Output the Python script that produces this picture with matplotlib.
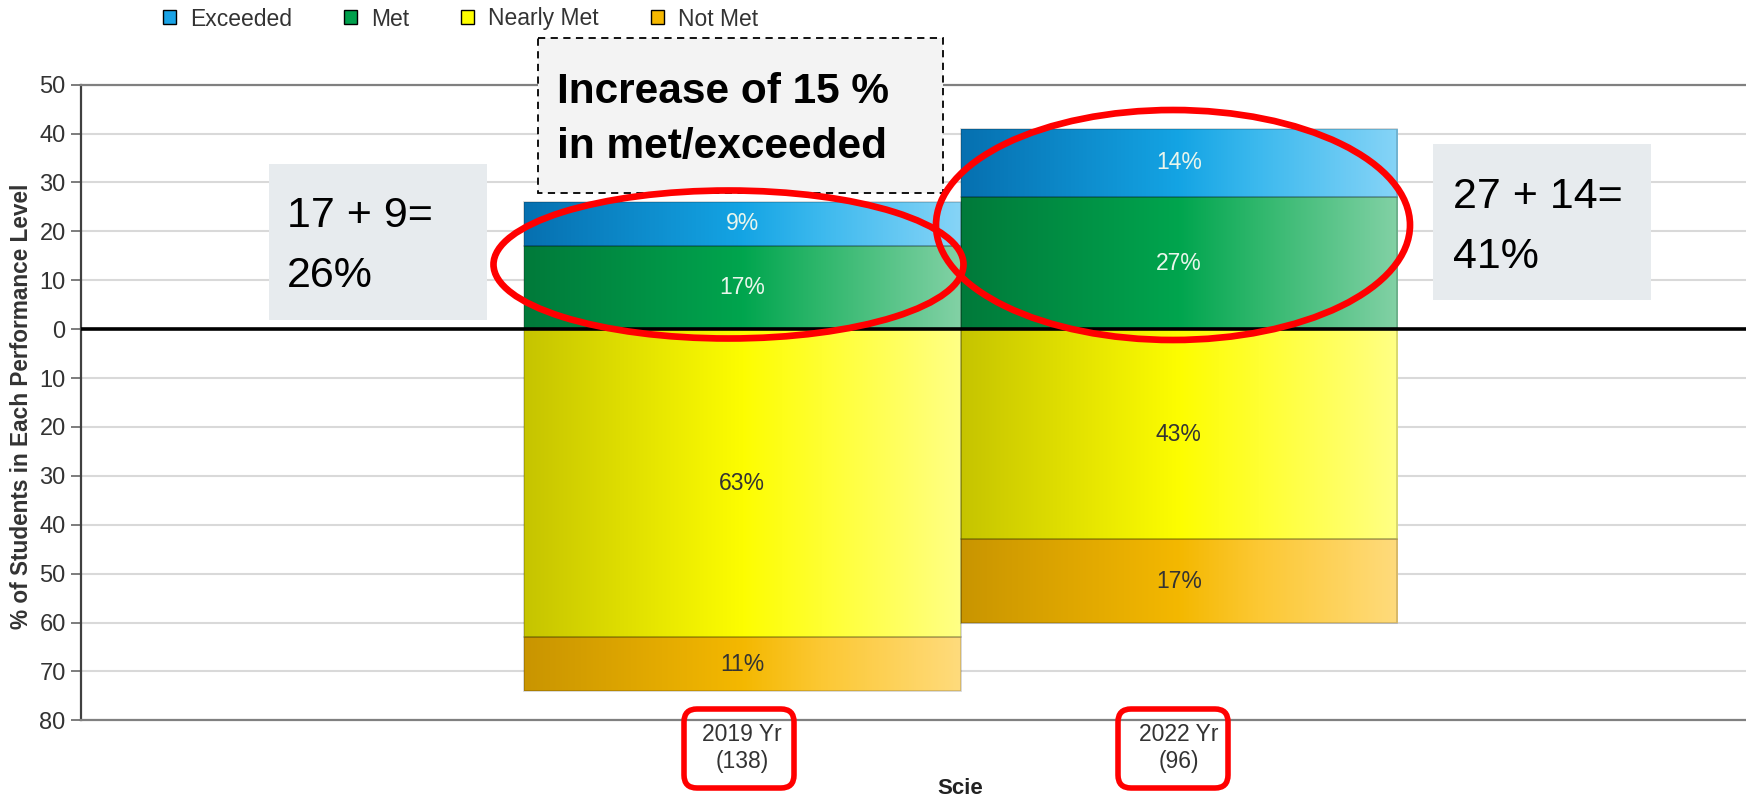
import numpy as np
import matplotlib
matplotlib.use('Agg')
import matplotlib.pyplot as plt
import matplotlib.transforms as mtransforms
from matplotlib.patches import Patch, Ellipse, FancyBboxPatch, Rectangle
from matplotlib.colors import LinearSegmentedColormap

# ---------------- data ----------------
years = ['2019 Yr', '2022 Yr']
counts = [138, 96]
exceeded = [9, 14]
met = [17, 27]
nearly_met = [63, 43]
not_met = [11, 17]
y_ticks = list(range(-80, 51, 10))
subject = 'Scie'
levels = ['Exceeded', 'Met', 'Nearly Met', 'Not Met']

# ---------------- figure ----------------
plt.rcParams['font.family'] = ['Liberation Sans', 'DejaVu Sans']
W, H, DPI = 1746, 799, 100
fig = plt.figure(figsize=(W / DPI, H / DPI), dpi=DPI)
fig.patch.set_facecolor('white')

def fx(px):
    return px / W

def fy(py):
    return 1 - py / H

ax_left, ax_top, ax_bottom = 81, 84.6, 720.4
ax = fig.add_axes([fx(ax_left), fy(ax_bottom), 1 - fx(ax_left), (ax_bottom - ax_top) / H])

x = np.arange(len(years))
ex = np.array(exceeded)
me = np.array(met)
nm = np.array(nearly_met)
no = np.array(not_met)

series = {
    'Exceeded':   dict(h=ex,  b=me,  grad=['#0670b0', '#14a4e4', '#3cb9ee', '#86d4f7'], txt='#eaf6ec', leg='#1aa3e6'),
    'Met':        dict(h=me,  b=np.zeros_like(me), grad=['#007a3a', '#00a54e', '#2fb76c', '#82d1a5'], txt='#eaf6ec', leg='#00a04c'),
    'Nearly Met': dict(h=-nm, b=np.zeros_like(nm), grad=['#c6c400', '#fdfd00', '#ffff30', '#ffff85'], txt='#333333', leg='#ffff00'),
    'Not Met':    dict(h=-no, b=-nm, grad=['#c99500', '#f4b800', '#fcc833', '#ffdb7c'], txt='#333333', leg='#f5b800'),
}
values = {'Exceeded': ex, 'Met': me, 'Nearly Met': nm, 'Not Met': no}

for name in ['Met', 'Exceeded', 'Nearly Met', 'Not Met']:
    s = series[name]
    bars = ax.bar(x, s['h'], bottom=s['b'], width=1.0, fill=False,
                  edgecolor=(0, 0, 0, 0.18), linewidth=1.2, zorder=4)
    cmap = LinearSegmentedColormap.from_list(name, list(zip([0, 0.5, 0.68, 1.0], s['grad'])))
    grad = cmap(np.linspace(0, 1, 256))[None, :, :]
    for p in bars.patches:
        x0, y0, w, h = p.get_x(), p.get_y(), p.get_width(), p.get_height()
        im = ax.imshow(grad, extent=(x0, x0 + w, min(y0, y0 + h), max(y0, y0 + h)),
                       aspect='auto', interpolation='bilinear', zorder=3)
        im.set_clip_path(p)
    ax.bar_label(bars, labels=[f'{v}%' for v in values[name]], label_type='center',
                 fontsize=16.5, color=s['txt'], zorder=6)

ax.set_xlim(-1.515, 2.299)
ax.set_ylim(-80, 50)
ax.set_yticks(y_ticks)
ax.set_yticklabels([str(abs(v)) for v in y_ticks])
ax.yaxis.grid(True, color='#d9d9d9', linewidth=1.5)
ax.set_axisbelow(True)
ax.axhline(0, color='black', linewidth=2.6, zorder=5)

ax.set_xticks(x)
ax.set_xticklabels([f'{yr}\n({c})' for yr, c in zip(years, counts)])
ax.tick_params(axis='x', length=0, labelsize=16.5, labelcolor='#333333', pad=2)
ax.tick_params(axis='y', length=7, width=1.2, color='#666666', labelsize=17,
               labelcolor='#333333', pad=4)
for side in ['top', 'bottom']:
    ax.spines[side].set_color('#808080')
    ax.spines[side].set_linewidth(1.6)
ax.spines['left'].set_color('#404040')
ax.spines['left'].set_linewidth(1.6)
ax.spines['right'].set_visible(False)

trans = mtransforms.blended_transform_factory(ax.transData, fig.transFigure)
ax.text(0.5, fy(788), subject, transform=trans, ha='center', va='center',
        fontsize=16, fontweight='bold', color='#222222')

fig.text(fx(22), fy(406), '% of Students in Each Performance Level', rotation=90,
         ha='center', va='center', fontsize=16.3, fontweight='bold', color='#333333')

handles = [Patch(facecolor=series[n]['leg'], edgecolor='black', linewidth=1.0) for n in levels]
fig.legend(handles, levels, loc='center left', bbox_to_anchor=(fx(163), fy(19)),
           ncol=4, frameon=False, fontsize=16.5, labelcolor='#333333',
           handlelength=0.56, handleheight=0.56, handletextpad=0.62,
           columnspacing=2.27, borderpad=0, borderaxespad=0)

# ---------------- annotation overlay (pixel coordinates) ----------------
ov = fig.add_axes([0, 0, 1, 1], zorder=10)
ov.set_xlim(0, W)
ov.set_ylim(H, 0)
ov.axis('off')
ov.patch.set_alpha(0)

ov.add_patch(Rectangle((538, 38), 405, 155, facecolor='#f3f3f3', edgecolor='black',
                       linewidth=1.3, linestyle=(0, (4, 3))))
ov.text(557, 103, 'Increase of 15 %', fontsize=30.5, fontweight='bold', va='baseline', ha='left', color='black')
ov.text(557, 158, 'in met/exceeded', fontsize=30.5, fontweight='bold', va='baseline', ha='left', color='black')

ov.add_patch(Rectangle((269, 164), 218, 156, facecolor='#e7ebee', edgecolor='none'))
ov.text(287, 227, '17 + 9=', fontsize=31, va='baseline', ha='left', color='black')
ov.text(287, 287, '26%', fontsize=31, va='baseline', ha='left', color='black')

ov.add_patch(Rectangle((1433, 144), 218, 156, facecolor='#e7ebee', edgecolor='none'))
ov.text(1453, 208, '27 + 14=', fontsize=31, va='baseline', ha='left', color='black')
ov.text(1453, 268, '41%', fontsize=31, va='baseline', ha='left', color='black')

red = '#ff0000'
ov.add_patch(Ellipse((728.5, 264.5), 470, 148, fill=False, edgecolor=red, linewidth=4.8))
ov.add_patch(Ellipse((1173, 225), 474, 230, fill=False, edgecolor=red, linewidth=4.8))

for x0 in (684, 1118):
    ov.add_patch(FancyBboxPatch((x0, 709), 110, 79,
                                boxstyle='round,pad=0,rounding_size=13',
                                fill=False, edgecolor=red, linewidth=4))

fig.savefig('out.png', dpi=DPI)
